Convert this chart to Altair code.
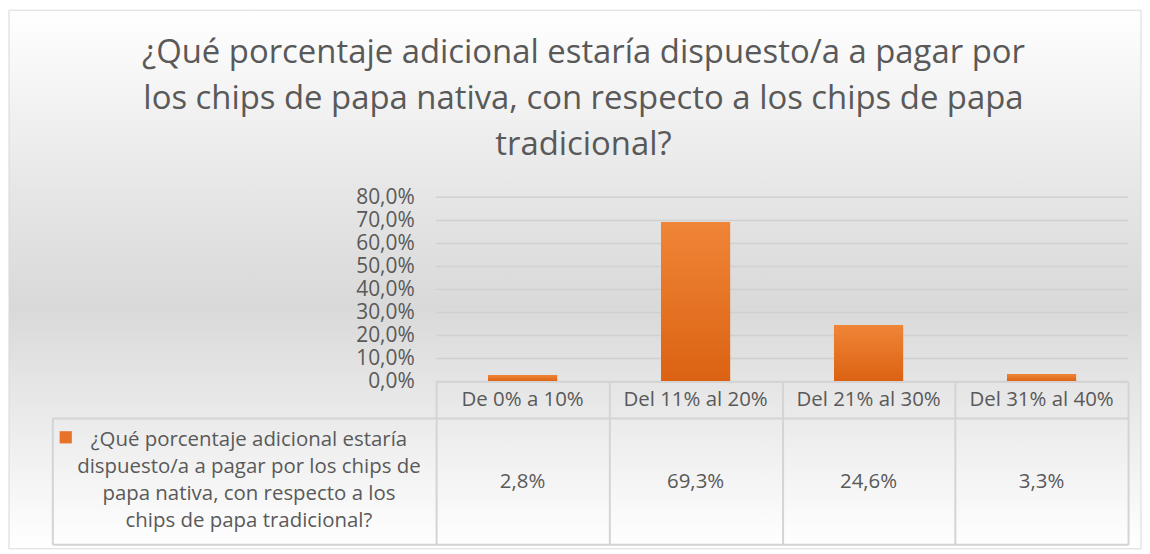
import altair as alt
import pandas as pd

categories = ["De 0% a 10%", "Del 11% al 20%", "Del 21% al 30%", "Del 31% al 40%"]
values = [0.028, 0.693, 0.246, 0.033]
value_labels = ["2,8%", "69,3%", "24,6%", "3,3%"]
y_ticks = [0.0, 0.1, 0.2, 0.3, 0.4, 0.5, 0.6, 0.7, 0.8]
series_name = ["¿Qué porcentaje adicional estaría",
               "dispuesto/a a pagar por los chips de",
               "papa nativa, con respecto a los",
               "chips de papa tradicional?"]
title_lines = ["¿Qué porcentaje adicional estaría dispuesto/a a pagar por",
               "los chips de papa nativa, con respecto a los chips de papa",
               "tradicional?"]

df = pd.DataFrame({"cat": categories, "val": values, "lab": value_labels})
grid_df = pd.DataFrame({"t": y_ticks})
one = pd.DataFrame({"k": [0]})
legend_df = pd.DataFrame({"txt": ["\n".join(series_name)]})
title_df = pd.DataFrame({"txt": ["\n".join(title_lines)]})

FONT = "Open Sans"
TXT = "#595959"
LINE = "#d4d4d4"
W, H = 695, 185

bg_grad = alt.LinearGradient(
    gradient="linear",
    stops=[alt.GradientStop(color="#ffffff", offset=0),
           alt.GradientStop(color="#e6e6e6", offset=0.34),
           alt.GradientStop(color="#d9d9d9", offset=0.55),
           alt.GradientStop(color="#ffffff", offset=1)],
    x1=0, x2=0, y1=0, y2=1)

bar_grad = alt.LinearGradient(
    gradient="linear",
    stops=[alt.GradientStop(color="#f08537", offset=0),
           alt.GradientStop(color="#db6212", offset=1)],
    x1=0, x2=0, y1=0, y2=1)

x_enc = alt.X("cat:N", sort=categories,
              scale=alt.Scale(paddingInner=0, paddingOuter=0),
              axis=alt.Axis(title=None, labels=False, domain=True, domainColor=LINE,
                            domainWidth=2, ticks=True, tickBand="extent", tickSize=164,
                            tickColor=LINE, tickWidth=2, grid=False, zindex=1))

y_scale = alt.Scale(domain=[0, 0.8])
y_axis = alt.Axis(title=None, values=y_ticks, domain=False, ticks=False,
                  grid=False, zindex=1, labelOverlap=False,
                  labelExpr="replace(format(datum.value, '.1%'), '.', ',')",
                  labelFont=FONT, labelFontSize=21, labelColor=TXT,
                  labelPadding=22)

background = alt.Chart(one).mark_rect(fill=bg_grad, stroke="#d9d9d9", strokeWidth=1).encode(
    x=alt.value(-429), x2=alt.value(708), y=alt.value(-188), y2=alt.value(353))

title = alt.Chart(title_df).mark_text(font=FONT, fontSize=33, color=TXT, baseline="middle",
                                      align="center", lineBreak="\n", lineHeight=46).encode(
    x=alt.value(148), y=alt.value(-145), text="txt:N")

grid = alt.Chart(grid_df).mark_rule(color="#d0d0d0", strokeWidth=1.5).encode(
    y=alt.Y("t:Q", scale=y_scale, axis=y_axis), x=alt.value(0), x2=alt.value(W))

bars = alt.Chart(df).mark_bar(width=alt.RelativeBandSize(0.4), fill=bar_grad).encode(
    x=x_enc,
    y=alt.Y("val:Q", scale=y_scale, axis=y_axis))

header = alt.Chart(df).mark_text(font=FONT, fontSize=20.5, color=TXT, baseline="middle").encode(
    x=x_enc, y=alt.value(204), text="cat:N")

vals = alt.Chart(df).mark_text(font=FONT, fontSize=20.5, color=TXT, baseline="middle").encode(
    x=x_enc, y=alt.value(286), text="lab:N")

rule_mid = alt.Chart(one).mark_rule(color=LINE, strokeWidth=2).encode(
    x=alt.value(-385), x2=alt.value(W), y=alt.value(222))
rule_bot = alt.Chart(one).mark_rule(color=LINE, strokeWidth=2).encode(
    x=alt.value(-385), x2=alt.value(W), y=alt.value(349))
rule_left = alt.Chart(one).mark_rule(color=LINE, strokeWidth=2).encode(
    x=alt.value(-385), y=alt.value(222), y2=alt.value(349))

legend_sq = alt.Chart(one).mark_square(size=150, color="#e8722a", opacity=1).encode(
    x=alt.value(-372), y=alt.value(241))

legend_txt = alt.Chart(legend_df).mark_text(font=FONT, fontSize=20.5, color=TXT,
                                            baseline="middle", align="center",
                                            lineBreak="\n", lineHeight=27).encode(
    x=alt.value(-188), y=alt.value(244), text="txt:N")

chart = alt.layer(background, title, grid, bars, header, vals, rule_mid, rule_bot, rule_left,
                  legend_sq, legend_txt).properties(
    width=W, height=H, padding=0
).configure_view(stroke=None).configure(background="#ffffff")

chart.save("out.html", embed_options={"renderer": "svg", "actions": False})
